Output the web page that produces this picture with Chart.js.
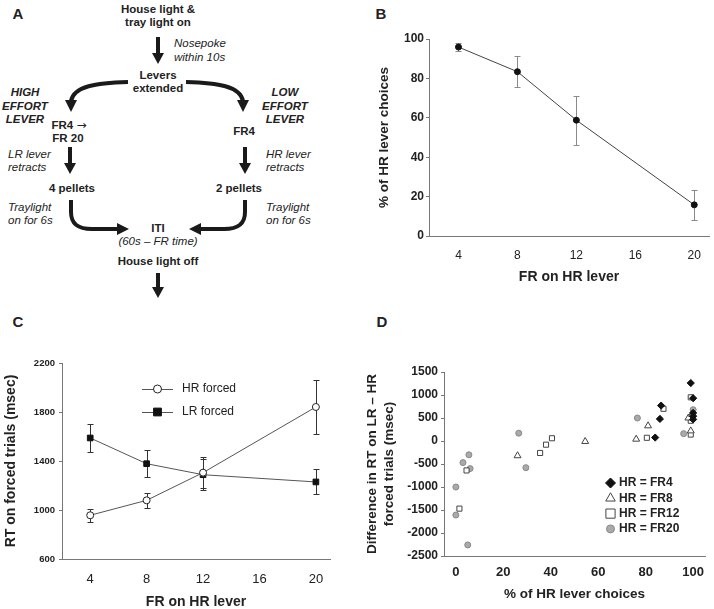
<!DOCTYPE html>
<html><head><meta charset="utf-8">
<script src="https://cdn.jsdelivr.net/npm/chart.js@4/dist/chart.umd.min.js"></script>
<style>
html,body{margin:0;padding:0;background:#fff;width:714px;height:609px;overflow:hidden;font-family:"Liberation Sans",Arial,sans-serif;color:#222}
#A{position:absolute;left:0;top:0;width:357px;height:300px}
#A div{position:absolute;font-size:11.5px;line-height:13px;white-space:nowrap}
.c{transform:translate(-50%,-50%)}
.l{transform:translateY(-50%)}
.b{font-weight:bold}
.i{font-style:italic}
.arr{font-family:"DejaVu Sans",sans-serif;font-weight:normal;font-size:12px}
.letter{position:absolute;font-weight:bold;font-size:15px;line-height:15px;transform:translate(-50%,-50%)}
canvas{position:absolute}
</style></head>
<body>
<div id="A">
<svg width="357" height="300" style="position:absolute;left:0;top:0">
<g fill="none" stroke="#1a1a1a" stroke-width="4">
<path d="M158,37 L158,54"/>
<path d="M128,82 C96,83 74,86 71,101"/>
<path d="M186,82 C218,83 240,86 243,101"/>
<path d="M70,147 L70,164"/>
<path d="M245,147 L245,164"/>
<path d="M71,200 L71,212 C71,224 78,229 92,229 L118,229"/>
<path d="M245,200 L245,212 C245,224 238,229 224,229 L200,229"/>
<path d="M158,273 L158,288"/>
</g>
<g fill="#1a1a1a">
<polygon points="152,53 164,53 158,64"/>
<polygon points="65,100 77,100 71,112"/>
<polygon points="237,100 249,100 243,112"/>
<polygon points="64,163 76,163 70,174"/>
<polygon points="239,163 251,163 245,174"/>
<polygon points="117,223 117,235 129,229"/>
<polygon points="201,223 201,235 189,229"/>
<polygon points="152,287 164,287 158,298"/>
</g>
</svg>
<div class="b c" style="left:158px;top:9px">House light &amp;</div>
<div class="b c" style="left:158px;top:22px">tray light on</div>
<div class="i l" style="left:174px;top:43px">Nosepoke</div>
<div class="i l" style="left:174px;top:57px">within 10s</div>
<div class="b c" style="left:158px;top:75px">Levers</div>
<div class="b c" style="left:158px;top:88px">extended</div>
<div class="b i c" style="left:25px;top:92px">HIGH</div>
<div class="b i c" style="left:25px;top:106px">EFFORT</div>
<div class="b i c" style="left:25px;top:119px">LEVER</div>
<div class="b i c" style="left:285px;top:92px">LOW</div>
<div class="b i c" style="left:285px;top:106px">EFFORT</div>
<div class="b i c" style="left:285px;top:119px">LEVER</div>
<div class="b c" style="left:69px;top:125px">FR4 <span class="arr">→</span></div>
<div class="b c" style="left:68px;top:138px">FR 20</div>
<div class="b c" style="left:244px;top:131px">FR4</div>
<div class="i l" style="left:8px;top:154px">LR lever</div>
<div class="i l" style="left:8px;top:167px">retracts</div>
<div class="i l" style="left:266px;top:154px">HR lever</div>
<div class="i l" style="left:266px;top:167px">retracts</div>
<div class="b c" style="left:72px;top:188px">4 pellets</div>
<div class="b c" style="left:239px;top:188px">2 pellets</div>
<div class="i l" style="left:8px;top:207px">Traylight</div>
<div class="i l" style="left:8px;top:220px">on for 6s</div>
<div class="i l" style="left:266px;top:207px">Traylight</div>
<div class="i l" style="left:266px;top:220px">on for 6s</div>
<div class="b c" style="left:158px;top:228px">ITI</div>
<div class="i c" style="left:158px;top:241px">(60s – FR time)</div>
<div class="b c" style="left:158px;top:261px">House light off</div>
</div>
<div class="letter" style="left:18px;top:13px">A</div>
<div class="letter" style="left:381px;top:13px">B</div>
<div class="letter" style="left:18px;top:321px">C</div>
<div class="letter" style="left:382px;top:321px">D</div>
<canvas id="cB" width="357" height="300" style="left:357px;top:0"></canvas>
<canvas id="cC" width="357" height="309" style="left:0;top:300px"></canvas>
<canvas id="cD" width="357" height="309" style="left:357px;top:300px"></canvas>
<script>
// ---------- data ----------
const frValues = [4, 8, 12, 20];
const frTicks = [4, 8, 12, 16, 20];
// Panel B
const hrChoicePct = [95.9, 83.4, 58.8, 15.8];
const hrChoiceSem = [2.2, 7.9, 12.4, 7.6];
// Panel C
const rtHrForced = [957, 1079, 1305, 1841];
const rtHrForcedSem = [52, 60, 125, 220];
const rtLrForced = [1588, 1378, 1288, 1229];
const rtLrForcedSem = [115, 110, 125, 102];
// Panel D
const pctTicks = [0, 20, 40, 60, 80, 100];
const fr4Pct  = [99, 100, 86.5, 86, 84, 100, 100, 100];
const fr4Diff = [1260, 930, 770, 480, 75, 610, 540, 470];
const fr8Pct  = [26, 54.5, 76, 81, 98, 99.5, 99];
const fr8Diff = [-320, -10, 40, 330, 500, 580, 220];
const fr12Pct  = [4.5, 1.5, 35.5, 38, 40.5, 80.5, 87.5, 99, 99, 99];
const fr12Diff = [-640, -1470, -260, -80, 60, 70, 700, 950, 440, 140];
const fr20Pct  = [0, 0, 5, 3, 5.5, 6, 26.5, 29.5, 76.5, 96, 100];
const fr20Diff = [-1000, -1610, -2260, -470, -300, -600, 170, -580, 500, 160, 680];

const pts = (xs, ys) => xs.map((x, i) => ({x: x, y: ys[i]}));
const FONT = '"Liberation Sans", Arial, sans-serif';
Chart.defaults.font.family = FONT;
Chart.defaults.color = '#222';
const plain = v => String(v);

function drawMarker(ctx, style, x, y, r, fill, stroke, bw) {
  ctx.save();
  ctx.fillStyle = fill; ctx.strokeStyle = stroke; ctx.lineWidth = bw;
  ctx.beginPath();
  if (style === 'circle') { ctx.arc(x, y, r, 0, Math.PI * 2); }
  else if (style === 'rect') { const s = Math.SQRT1_2 * r; ctx.rect(x - s, y - s, 2 * s, 2 * s); }
  else if (style === 'rectRot') { ctx.moveTo(x - r, y); ctx.lineTo(x, y - r); ctx.lineTo(x + r, y); ctx.lineTo(x, y + r); ctx.closePath(); }
  else if (style === 'triangle') {
    ctx.moveTo(x, y - r);
    ctx.lineTo(x + Math.sin(2 * Math.PI / 3) * r, y - Math.cos(2 * Math.PI / 3) * r);
    ctx.lineTo(x + Math.sin(4 * Math.PI / 3) * r, y - Math.cos(4 * Math.PI / 3) * r);
    ctx.closePath();
  }
  ctx.fill();
  if (bw > 0) ctx.stroke();
  ctx.restore();
}

const errorBarsPlugin = {
  id: 'errorBars',
  beforeDatasetsDraw(chart) {
    const ctx = chart.ctx, xs = chart.scales.x, ys = chart.scales.y;
    chart.data.datasets.forEach(ds => {
      if (!ds.errorBars) return;
      ctx.save();
      ctx.strokeStyle = ds.errorColor || '#333';
      ctx.lineWidth = 1;
      ds.data.forEach((p, i) => {
        const e = ds.errorBars[i];
        const x = Math.round(xs.getPixelForValue(p.x)) + 0.5;
        const yt = Math.round(ys.getPixelForValue(p.y + e)) + 0.5;
        const yb = Math.round(ys.getPixelForValue(p.y - e)) + 0.5;
        const h = ds.capHalf || 3;
        ctx.beginPath();
        ctx.moveTo(x, yt); ctx.lineTo(x, yb);
        ctx.moveTo(x - h, yt); ctx.lineTo(x + h, yt);
        ctx.moveTo(x - h, yb); ctx.lineTo(x + h, yb);
        ctx.stroke();
      });
      ctx.restore();
    });
  }
};

const inLegendPlugin = {
  id: 'inLegend',
  afterDraw(chart, args, opts) {
    if (!opts || !opts.items) return;
    const ctx = chart.ctx;
    opts.items.forEach((it, k) => {
      const ds = chart.data.datasets[it.datasetIndex];
      const y = opts.y0 + k * opts.dy;
      if (opts.lineHalf) {
        ctx.save();
        ctx.strokeStyle = ds.borderColor; ctx.lineWidth = 1;
        ctx.beginPath();
        ctx.moveTo(opts.x - opts.lineHalf, Math.round(y) + 0.5);
        ctx.lineTo(opts.x + opts.lineHalf, Math.round(y) + 0.5);
        ctx.stroke();
        ctx.restore();
      }
      drawMarker(ctx, ds.pointStyle, opts.x, y, it.radius, ds.pointBackgroundColor, ds.pointBorderColor, ds.pointBorderWidth);
      ctx.save();
      ctx.fillStyle = '#222';
      ctx.font = opts.font;
      ctx.textBaseline = 'middle';
      ctx.textAlign = 'left';
      ctx.fillText(ds.label, opts.textX, y);
      ctx.restore();
    });
  }
};

function xTicksFrom(arr) { return function (s) { s.ticks = arr.map(v => ({value: v})); }; }

const baseOpts = {
  responsive: false, animation: false, events: [],
  plugins: {legend: {display: false}, tooltip: {enabled: false}}
};

// ---------- Panel B ----------
new Chart(document.getElementById('cB'), {
  type: 'scatter',
  data: {datasets: [{
    label: '% HR choices',
    data: pts(frValues, hrChoicePct),
    showLine: true, borderColor: '#444', borderWidth: 1,
    pointStyle: 'circle', pointRadius: 3, pointBackgroundColor: '#111', pointBorderColor: '#111', pointBorderWidth: 1,
    errorBars: hrChoiceSem, errorColor: '#8a8a8a', capHalf: 3
  }]},
  options: Object.assign({}, baseOpts, {
    layout: {padding: {left: 0, top: 39, right: 3, bottom: 0}},
    scales: {
      x: {type: 'linear', min: 2, max: 21, afterBuildTicks: xTicksFrom(frTicks), afterFit: s => { s.height = 64; },
        grid: {display: false}, border: {color: '#777'},
        ticks: {padding: 4, font: {size: 12}, color: '#222', callback: plain},
        title: {display: true, text: 'FR on HR lever', font: {size: 14, weight: 'bold', lineHeight: 1.2}, padding: {top: 0, bottom: 14.6}, color: '#222'}},
      y: {type: 'linear', min: 0, max: 100, afterFit: s => { s.width = 72; },
        grid: {display: true, drawOnChartArea: false, drawTicks: true, tickLength: 3, color: '#777'}, border: {color: '#777'},
        ticks: {stepSize: 20, padding: 2, font: {size: 12, weight: 'bold'}, color: '#222', callback: plain},
        title: {display: true, text: '% of HR lever choices', font: {size: 13.5, weight: 'bold', lineHeight: 1.2}, padding: {top: 19, bottom: 0}, color: '#222'}}
    }
  }),
  plugins: [errorBarsPlugin]
});

// ---------- Panel C ----------
new Chart(document.getElementById('cC'), {
  type: 'scatter',
  data: {datasets: [{
    label: 'HR forced',
    data: pts(frValues, rtHrForced),
    showLine: true, borderColor: '#555', borderWidth: 1,
    pointStyle: 'circle', pointRadius: 3.5, pointBackgroundColor: '#fff', pointBorderColor: '#222', pointBorderWidth: 1,
    errorBars: rtHrForcedSem, errorColor: '#333', capHalf: 3
  }, {
    label: 'LR forced',
    data: pts(frValues, rtLrForced),
    showLine: true, borderColor: '#555', borderWidth: 1,
    pointStyle: 'rect', pointRadius: 4, pointBackgroundColor: '#111', pointBorderColor: '#111', pointBorderWidth: 1,
    errorBars: rtLrForcedSem, errorColor: '#333', capHalf: 3
  }]},
  options: Object.assign({}, baseOpts, {
    layout: {padding: {left: 0, top: 63, right: 27, bottom: 0}},
    plugins: {legend: {display: false}, tooltip: {enabled: false},
      inLegend: {x: 157.5, y0: 89, dy: 23, lineHalf: 15.5, textX: 182, font: '12px ' + FONT,
        items: [{datasetIndex: 0, radius: 4}, {datasetIndex: 1, radius: 5.5}]}},
    scales: {
      x: {type: 'linear', min: 2, max: 21, afterBuildTicks: xTicksFrom(frTicks), afterFit: s => { s.height = 50; },
        grid: {display: false}, border: {color: '#777'},
        ticks: {padding: 5, font: {size: 13}, color: '#222', callback: plain},
        title: {display: true, text: 'FR on HR lever', font: {size: 14, weight: 'bold', lineHeight: 1}, padding: {top: 0, bottom: 0.3}, color: '#222'}},
      y: {type: 'linear', min: 600, max: 2200, afterFit: s => { s.width = 62; },
        grid: {display: true, drawOnChartArea: false, drawTicks: true, tickLength: 3, color: '#777'}, border: {color: '#777'},
        ticks: {stepSize: 400, padding: 4, font: {size: 9.5, weight: 'bold'}, color: '#222', callback: plain},
        title: {display: true, text: 'RT on forced trials (msec)', font: {size: 14, weight: 'bold', lineHeight: 1.2}, padding: {top: 2.6, bottom: 0}, color: '#222'}}
    }
  }),
  plugins: [errorBarsPlugin, inLegendPlugin]
});

// ---------- Panel D ----------
new Chart(document.getElementById('cD'), {
  type: 'scatter',
  data: {datasets: [{
    label: 'HR = FR4', data: pts(fr4Pct, fr4Diff),
    pointStyle: 'rectRot', pointRadius: 3.6, pointBackgroundColor: '#111', pointBorderColor: '#111', pointBorderWidth: 1
  }, {
    label: 'HR = FR8', data: pts(fr8Pct, fr8Diff),
    pointStyle: 'triangle', pointRadius: 4, pointBackgroundColor: '#fff', pointBorderColor: '#444', pointBorderWidth: 1
  }, {
    label: 'HR = FR12', data: pts(fr12Pct, fr12Diff),
    pointStyle: 'rect', pointRadius: 3.6, pointBackgroundColor: '#fff', pointBorderColor: '#444', pointBorderWidth: 1
  }, {
    label: 'HR = FR20', data: pts(fr20Pct, fr20Diff),
    pointStyle: 'circle', pointRadius: 3, pointBackgroundColor: '#aaa', pointBorderColor: '#888', pointBorderWidth: 1
  }]},
  options: Object.assign({}, baseOpts, {
    layout: {padding: {left: 0, top: 72, right: 9, bottom: 0}},
    plugins: {legend: {display: false}, tooltip: {enabled: false},
      inLegend: {x: 253.5, y0: 183, dy: 15.3, textX: 262, font: 'bold 12px ' + FONT,
        items: [{datasetIndex: 0, radius: 5}, {datasetIndex: 1, radius: 5.5}, {datasetIndex: 2, radius: 6.5}, {datasetIndex: 3, radius: 4}]}},
    scales: {
      x: {type: 'linear', min: -5, max: 105, afterBuildTicks: xTicksFrom(pctTicks), afterFit: s => { s.height = 53; },
        grid: {display: false}, border: {color: '#777'},
        ticks: {padding: 1, font: {size: 13, weight: 'bold'}, color: '#222', callback: plain},
        title: {display: true, text: '% of HR lever choices', font: {size: 13.5, weight: 'bold', lineHeight: 1.2}, padding: {top: 0, bottom: 6.9}, color: '#222'}},
      y: {type: 'linear', min: -2500, max: 1500, afterFit: s => { s.width = 87; },
        grid: {display: true, drawOnChartArea: false, drawTicks: true, tickLength: 3, color: '#777'}, border: {color: '#777'},
        ticks: {stepSize: 500, padding: 3, font: {size: 12, weight: 'bold'}, color: '#222', callback: plain},
        title: {display: true, text: ['Difference in RT on LR – HR', 'forced trials (msec)'], font: {size: 13.5, weight: 'bold', lineHeight: 1.26}, padding: {top: 6.5, bottom: 0}, color: '#222'}}
    }
  }),
  plugins: [inLegendPlugin]
});
</script>
</body></html>
